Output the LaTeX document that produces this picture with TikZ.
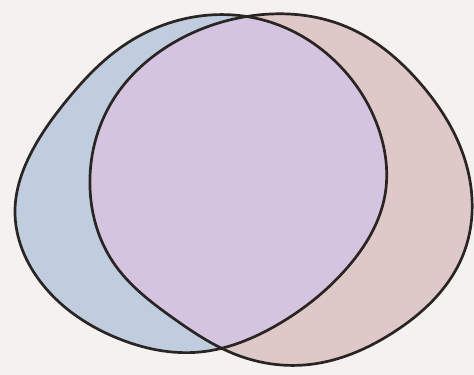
\documentclass[tikz,border=0pt]{standalone}
\usepackage{tikz}
\usetikzlibrary{hobby}

\newcommand{\setA}{(15,210) .. (30,155) .. (67,100) .. (120,48) .. (200,16) .. (270,22) .. (337,63) .. (380,133) .. (385,195) .. (347,268) .. (277,325) .. (200,352) .. (117,338) .. (43,285)}
\newcommand{\setB}{(90,188) .. (113,100) .. (173,43) .. (250,16) .. (347,27) .. (420,83) .. (467,167) .. (463,255) .. (394,332) .. (304,365) .. (237,355) .. (173,318) .. (113,262)}

\definecolor{paper}{HTML}{F3F2F0}
\definecolor{setblue}{HTML}{BFCDDF}
\definecolor{setpink}{HTML}{DEC8C8}
\definecolor{setboth}{HTML}{D4C4DF}
\definecolor{ink}{HTML}{2A2522}

\begin{document}
\begin{tikzpicture}[
        x=0.03cm, y=-0.03cm,
        blob/.style={use Hobby shortcut, closed=true},
        outline/.style={blob, draw=ink, line width=2.3pt, line join=round}
    ]
        \fill[paper] (0,0) rectangle (474,375);
        \useasboundingbox (0,0) rectangle (474,375);

        \fill[blob, setblue] \setA;
        \fill[blob, setpink] \setB;
        \begin{scope}
            \clip[blob] \setA;
            \fill[blob, setboth] \setB;
        \end{scope}

        \draw[outline] \setA;
        \draw[outline] \setB;
    \end{tikzpicture}
\end{document}
